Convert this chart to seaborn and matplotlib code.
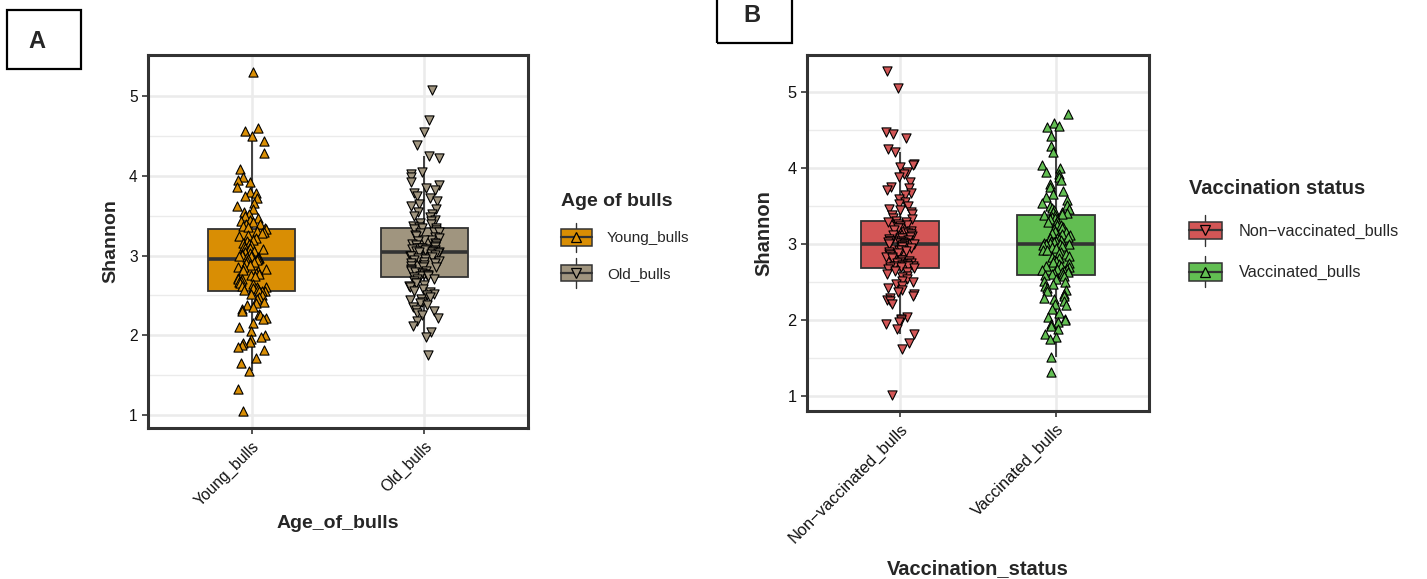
import numpy as np
import pandas as pd
import seaborn as sns
import matplotlib.pyplot as plt
from matplotlib.legend_handler import HandlerBase
from matplotlib.patches import Rectangle
from matplotlib.lines import Line2D

# ---------------- data (Shannon index values) ----------------
young_bulls = [
    5.30, 4.60, 4.56, 4.50, 4.43, 4.28, 4.08, 3.98, 3.95, 3.92,
    3.86, 3.80, 3.78, 3.75, 3.72, 3.66, 3.62, 3.58, 3.55, 3.52,
    3.50, 3.47, 3.45, 3.43, 3.42, 3.40, 3.39, 3.37, 3.36, 3.35,
    3.33,
    3.31, 3.30, 3.28, 3.26, 3.25, 3.22, 3.20, 3.18, 3.16, 3.15,
    3.13, 3.12, 3.10, 3.09, 3.08, 3.06, 3.05, 3.04, 3.03, 3.02,
    3.01, 3.00, 2.99, 2.99, 2.98, 2.98, 2.97, 2.97, 2.96,
    2.96,
    2.95, 2.93, 2.92, 2.90, 2.88, 2.86, 2.85, 2.83, 2.82, 2.80,
    2.78, 2.77, 2.75, 2.74, 2.72, 2.71, 2.70, 2.68, 2.67, 2.65,
    2.64, 2.62, 2.61, 2.60, 2.59, 2.58, 2.57, 2.56, 2.56,
    2.55,
    2.52, 2.50, 2.48, 2.45, 2.42, 2.40, 2.38, 2.35, 2.33, 2.30,
    2.27, 2.25, 2.22, 2.20, 2.15, 2.10, 2.05, 2.00, 1.98, 1.95,
    1.92, 1.90, 1.88, 1.85, 1.82, 1.72, 1.65, 1.55, 1.33, 1.05,
]
old_bulls = [
    5.07, 4.70, 4.55, 4.38, 4.25, 4.22, 4.05, 4.02, 3.98, 3.92,
    3.88, 3.85, 3.82, 3.78, 3.75, 3.72, 3.68, 3.65, 3.62, 3.58,
    3.55, 3.52, 3.50, 3.48, 3.45, 3.43, 3.41, 3.39, 3.37, 3.36,
    3.35,
    3.34, 3.33, 3.32, 3.30, 3.29, 3.28, 3.26, 3.25, 3.23, 3.22,
    3.20, 3.19, 3.18, 3.16, 3.15, 3.14, 3.13, 3.12, 3.11, 3.10,
    3.09, 3.09, 3.08, 3.08, 3.07, 3.07, 3.06, 3.06, 3.05,
    3.05,
    3.04, 3.03, 3.02, 3.01, 3.00, 2.99, 2.98, 2.97, 2.96, 2.95,
    2.93, 2.92, 2.91, 2.90, 2.88, 2.87, 2.86, 2.85, 2.83, 2.82,
    2.81, 2.80, 2.79, 2.78, 2.77, 2.76, 2.75, 2.74, 2.74,
    2.73,
    2.71, 2.70, 2.68, 2.66, 2.65, 2.63, 2.62, 2.60, 2.58, 2.56,
    2.54, 2.52, 2.50, 2.48, 2.46, 2.44, 2.42, 2.40, 2.38, 2.35,
    2.32, 2.30, 2.28, 2.25, 2.22, 2.18, 2.12, 2.04, 1.98, 1.75,
]
non_vaccinated_bulls = [
    5.28, 5.06, 4.48, 4.45, 4.40, 4.25, 4.22, 4.06, 4.04, 4.02,
    3.95, 3.92, 3.88, 3.82, 3.76, 3.74, 3.72, 3.68, 3.65, 3.60,
    3.56, 3.53, 3.50, 3.47, 3.45, 3.42, 3.40, 3.38, 3.35, 3.33,
    3.31,
    3.30, 3.29, 3.27, 3.26, 3.24, 3.22, 3.21, 3.19, 3.18, 3.16,
    3.15, 3.13, 3.12, 3.11, 3.10, 3.09, 3.08, 3.07, 3.06, 3.05,
    3.04, 3.04, 3.03, 3.03, 3.02, 3.02, 3.01, 3.01, 3.00,
    3.00,
    2.99, 2.98, 2.97, 2.96, 2.95, 2.93, 2.92, 2.91, 2.90, 2.88,
    2.87, 2.86, 2.84, 2.83, 2.82, 2.80, 2.79, 2.78, 2.77, 2.76,
    2.75, 2.74, 2.73, 2.72, 2.72, 2.71, 2.71, 2.70, 2.70,
    2.69,
    2.67, 2.65, 2.63, 2.61, 2.59, 2.57, 2.55, 2.52, 2.50, 2.48,
    2.45, 2.42, 2.40, 2.37, 2.35, 2.32, 2.30, 2.27, 2.25, 2.22,
    2.05, 2.02, 2.00, 1.98, 1.95, 1.88, 1.82, 1.70, 1.62, 1.02,
]
vaccinated_bulls = [
    4.72, 4.60, 4.56, 4.55, 4.42, 4.30, 4.22, 4.05, 4.00, 3.95,
    3.92, 3.88, 3.85, 3.80, 3.75, 3.70, 3.66, 3.62, 3.58, 3.55,
    3.52, 3.50, 3.48, 3.46, 3.45, 3.43, 3.42, 3.41, 3.40, 3.39,
    3.38,
    3.36, 3.35, 3.33, 3.31, 3.30, 3.28, 3.26, 3.25, 3.23, 3.21,
    3.20, 3.18, 3.16, 3.15, 3.13, 3.12, 3.10, 3.09, 3.08, 3.07,
    3.06, 3.05, 3.04, 3.03, 3.02, 3.02, 3.01, 3.01, 3.00,
    3.00,
    2.99, 2.98, 2.96, 2.95, 2.93, 2.92, 2.90, 2.88, 2.87, 2.85,
    2.83, 2.82, 2.80, 2.78, 2.77, 2.75, 2.74, 2.72, 2.71, 2.70,
    2.68, 2.67, 2.66, 2.65, 2.64, 2.63, 2.62, 2.61, 2.61,
    2.60,
    2.58, 2.55, 2.52, 2.50, 2.48, 2.45, 2.42, 2.40, 2.38, 2.35,
    2.32, 2.30, 2.28, 2.25, 2.22, 2.20, 2.15, 2.10, 2.05, 2.02,
    2.00, 1.98, 1.95, 1.92, 1.88, 1.82, 1.78, 1.75, 1.52, 1.32,
]

age_categories = ["Young_bulls", "Old_bulls"]
vacc_categories = ["Non-vaccinated_bulls", "Vaccinated_bulls"]
vacc_display = ["Non\u2212vaccinated_bulls", "Vaccinated_bulls"]
y_ticks = [1, 2, 3, 4, 5]

age_colors = ["#D98E04", "#A0957F"]
vacc_colors = ["#D35656", "#62BE52"]
age_markers = ["^", "v"]
vacc_markers = ["v", "^"]

df_age = pd.DataFrame({
    "Age_of_bulls": [age_categories[0]] * len(young_bulls) + [age_categories[1]] * len(old_bulls),
    "Shannon": young_bulls + old_bulls,
})
df_vacc = pd.DataFrame({
    "Vaccination_status": [vacc_categories[0]] * len(non_vaccinated_bulls) + [vacc_categories[1]] * len(vaccinated_bulls),
    "Shannon": non_vaccinated_bulls + vaccinated_bulls,
})

# ---------------- styling ----------------
sns.set_theme(style="white")
plt.rcParams["font.family"] = ["Liberation Sans", "DejaVu Sans"]
np.random.seed(3)

DARK = "#333333"
GRID = "#EBEBEB"

fig = plt.figure(figsize=(14.27, 5.79), dpi=100)
fig.patch.set_facecolor("white")


class BoxKey:
    def __init__(self, color, marker):
        self.color = color
        self.marker = marker


class BoxKeyHandler(HandlerBase):
    def create_artists(self, legend, h, xdescent, ydescent, width, height, fontsize, trans):
        x0, y0 = -xdescent, -ydescent
        cx, cy = x0 + width / 2, y0 + height / 2
        whisk = Line2D([cx, cx], [y0 - 0.38 * height, y0 + 1.38 * height], color=DARK, lw=1.0, transform=trans)
        rect = Rectangle((x0, y0), width, height, facecolor=h.color, edgecolor=DARK, lw=1.1, transform=trans)
        med = Line2D([x0, x0 + width], [cy, cy], color=DARK, lw=1.6, transform=trans)
        mk = Line2D([cx], [cy], marker=h.marker, markersize=6.5, markerfacecolor=h.color,
                    markeredgecolor="black", markeredgewidth=0.9, linestyle="none", transform=trans)
        return [whisk, rect, med, mk]


def draw_panel(ax, df, xcol, cats, display, colors, markers, ylim,
               tick_fs, label_fs, ylab_x, xlab_y):
    sns.boxplot(data=df, x=xcol, y="Shannon", hue=xcol, order=cats, hue_order=cats,
                palette=colors, saturation=1, width=0.5, dodge=False, showfliers=False,
                showcaps=False, linecolor=DARK, linewidth=1.3, legend=False, ax=ax,
                medianprops={"linewidth": 2.6, "color": DARK}, zorder=2)
    for cat, col, mk in zip(cats, colors, markers):
        sns.stripplot(data=df[df[xcol] == cat], x=xcol, y="Shannon", order=cats,
                      color=col, marker=mk, size=6.6, linewidth=0.8, edgecolor="black",
                      jitter=0.09, ax=ax, zorder=3)
    ax.set_xlim(-0.6, 1.6)
    ax.set_ylim(*ylim)
    ax.set_yticks(y_ticks)
    ax.set_yticks([1.5, 2.5, 3.5, 4.5], minor=True)
    ax.set_xticks(range(len(cats)))
    ax.set_xticklabels(display, rotation=45, ha="right", rotation_mode="anchor", fontsize=tick_fs)
    ax.tick_params(axis="y", labelsize=tick_fs)
    ax.tick_params(which="major", direction="out", length=4.5, width=1.2, color=DARK,
                   labelcolor="#111111", pad=3, left=True, bottom=True)
    ax.tick_params(which="minor", length=0)
    ax.grid(True, which="major", color=GRID, linewidth=1.8)
    ax.grid(True, which="minor", axis="y", color=GRID, linewidth=1.0)
    ax.set_axisbelow(True)
    for s in ax.spines.values():
        s.set_visible(True)
        s.set_color(DARK)
        s.set_linewidth(2.2)
    ax.set_ylabel("Shannon", fontsize=label_fs, fontweight="bold")
    ax.set_xlabel(xcol, fontsize=label_fs, fontweight="bold")
    ax.yaxis.set_label_coords(ylab_x, 0.5)
    ax.xaxis.set_label_coords(0.5, xlab_y)


axA = fig.add_axes([0.1037, 0.2608, 0.2663, 0.644])
axB = fig.add_axes([0.5655, 0.2902, 0.2397, 0.6149])

draw_panel(axA, df_age, "Age_of_bulls", age_categories, age_categories, age_colors, age_markers,
           (0.8375, 5.5125), 11.2, 14, -0.074, -0.232)
draw_panel(axB, df_vacc, "Vaccination_status", vacc_categories, vacc_display, vacc_colors, vacc_markers,
           (0.807, 5.493), 11.8, 14.5, -0.099, -0.415)

# ---------------- legends ----------------
legA = fig.legend([BoxKey(c, m) for c, m in zip(age_colors, age_markers)], age_categories,
                  handler_map={BoxKey: BoxKeyHandler()}, title="Age of bulls",
                  loc="upper left", bbox_to_anchor=(561 / 1427, 1 - 193 / 579),
                  frameon=False, fontsize=11, title_fontproperties={"weight": "bold", "size": 14},
                  handlelength=2.0, handleheight=1.3, labelspacing=1.24, handletextpad=1.0,
                  borderpad=0, borderaxespad=0)
legA._legend_box.align = "left"

legB = fig.legend([BoxKey(c, m) for c, m in zip(vacc_colors, vacc_markers)], vacc_display,
                  handler_map={BoxKey: BoxKeyHandler()}, title="Vaccination status",
                  loc="upper left", bbox_to_anchor=(1189 / 1427, 1 - 179 / 579),
                  frameon=False, fontsize=11.7, title_fontproperties={"weight": "bold", "size": 14.5},
                  handlelength=2.0, handleheight=1.3, labelspacing=1.45, handletextpad=1.05,
                  borderpad=0, borderaxespad=0)
legB._legend_box.align = "left"

# ---------------- panel tags ----------------
fig.add_artist(Rectangle((7 / 1427, 1 - 69 / 579), 74 / 1427, 59 / 579, transform=fig.transFigure,
                         facecolor="none", edgecolor="black", linewidth=1.6))
fig.text(37 / 1427, 1 - 42 / 579, "A", fontsize=17, fontweight="bold", ha="center", va="center")
fig.add_artist(Rectangle((717 / 1427, 1 - 43 / 579), 75 / 1427, 60 / 579, transform=fig.transFigure,
                         facecolor="none", edgecolor="black", linewidth=1.6, clip_on=False))
fig.text(752 / 1427, 1 - 15 / 579, "B", fontsize=17, fontweight="bold", ha="center", va="center")

fig.savefig("out.png", dpi=100)
